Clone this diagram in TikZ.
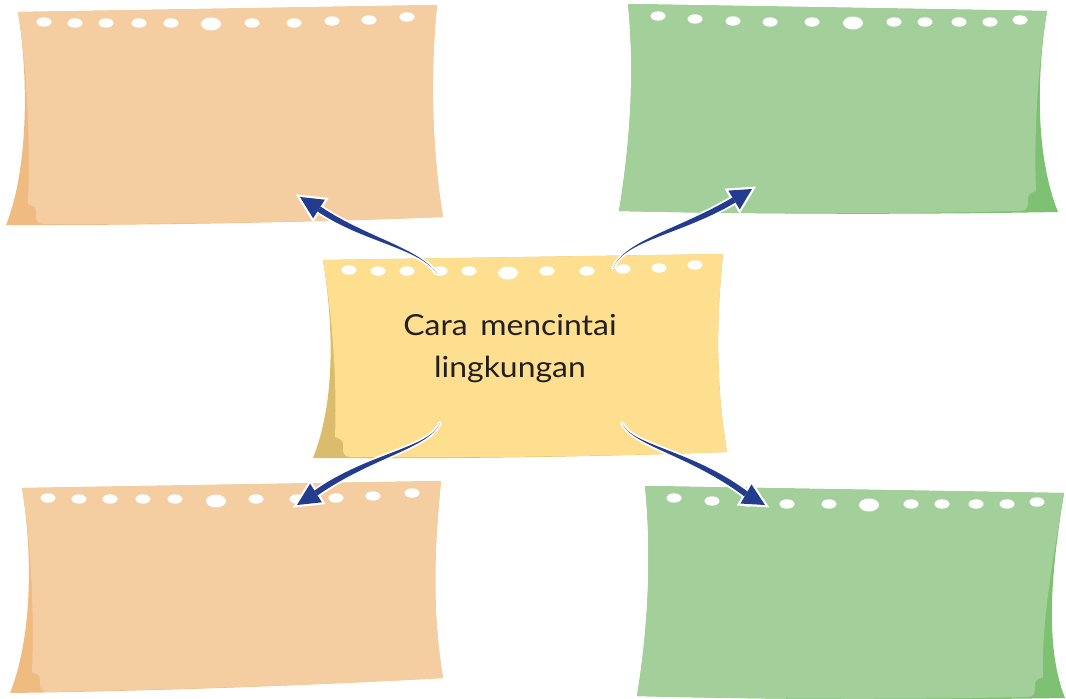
\documentclass[tikz,border=0pt]{standalone}
\usepackage{fontspec}
\setmainfont{Lato}
\newfontfamily\notefont[FakeStretch=1.1]{Lato}
\usetikzlibrary{calc}
\definecolor{orL}{HTML}{F4CDA1}
\definecolor{orD}{HTML}{F0BB80}
\definecolor{grL}{HTML}{A3CF9A}
\definecolor{grD}{HTML}{7FC172}
\definecolor{yeL}{HTML}{FDDF8F}
\definecolor{yeD}{HTML}{DABC6C}
\definecolor{navyarrow}{HTML}{233C8E}
\definecolor{ink}{HTML}{231F20}
% note paper: TL, TR, BR, BL corners, colour prefix
\newcommand\notepaper[9]{%
  \fill[#9D] (#1,#2) -- (#3,#4)
    .. controls ($(#3,#4)+(-7,70)$) and ($(#5,#6)+(-11,-67)$) .. (#5,#6)
    .. controls ($(#5,#6)!0.33!(#7,#8)+(0,3)$) and ($(#5,#6)!0.67!(#7,#8)+(0,3)$) .. (#7,#8)
    .. controls ($(#7,#8)+(22,-55)$) and ($(#1,#2)+(11,68)$) .. (#1,#2) -- cycle;
  \fill[#9L] (#1,#2) -- (#3,#4)
    .. controls ($(#3,#4)+(-7,70)$) and ($(#5,#6)+(-11,-67)$) .. (#5,#6)
    .. controls ($(#5,#6)!0.33!(#7,#8)+(0,3)$) and ($(#5,#6)!0.67!(#7,#8)+(0,2)$) .. ($(#7,#8)+(38,-1)$)
    .. controls ($(#7,#8)+(32,-1)$) and ($(#7,#8)+(30,-4)$) .. ($(#7,#8)+(30,-9)$)
    -- ($(#7,#8)+(30,-14)$)
    .. controls ($(#7,#8)+(30,-18)$) and ($(#7,#8)+(27,-19)$) .. ($(#7,#8)+(22,-21)$)
    .. controls ($(#7,#8)+(24,-75)$) and ($(#1,#2)+(10,60)$) .. (#1,#2) -- cycle;
}
\tikzset{
  hole/.style={fill=white},
  arrowrim/.style={draw=white,line width=3.6pt,line join=round},
  headrim/.style={draw=white,line width=4.4pt,line join=miter},
  arrowbody/.style={fill=navyarrow},
  notetext/.style={text=ink,font=\notefont\fontsize{29}{34}\selectfont,anchor=base,inner sep=0pt}
}
% tapered arrow between named coordinates: start, control a, control b, head base, tip
\newcommand\taperarrow[5]{%
  \path[arrowrim] (#1) .. controls (#2) and ($(#3)!2.9pt!-90:(#4)$) .. ($(#4)!2.9pt!90:(#3)$)
     -- ($(#4)!2.9pt!-90:(#3)$) .. controls ($(#3)!2.9pt!90:(#4)$) and (#2) .. (#1) -- cycle;
  \path[headrim] (#5) -- ($(#4)!11pt!90:(#5)$) -- ($(#4)!11pt!-90:(#5)$) -- cycle;
  \path[arrowbody] (#1) .. controls (#2) and ($(#3)!2.9pt!-90:(#4)$) .. ($(#4)!2.9pt!90:(#3)$)
     -- ($(#4)!2.9pt!-90:(#3)$) .. controls ($(#3)!2.9pt!90:(#4)$) and (#2) .. (#1) -- cycle;
  \path[arrowbody] (#5) -- ($(#4)!11pt!90:(#5)$) -- ($(#4)!11pt!-90:(#5)$) -- cycle;
}
\begin{document}
\begin{tikzpicture}[x=1pt,y=-1pt]
\useasboundingbox (0,0) rectangle (1066,699);
% notes
\notepaper{18}{12}{437}{5}{443}{217}{6}{225}{or}
\notepaper{22}{488}{441}{481}{443}{678}{10}{693}{or}
\notepaper{323}{260}{723}{254}{727}{452}{313}{458}{ye}
\begin{scope}[xscale=-1]
\notepaper{-1047}{11}{-628}{4}{-619}{211}{-1058}{212}{gr}
\notepaper{-1064}{493}{-645}{486}{-637}{696}{-1065}{698}{gr}
\end{scope}
% holes
\foreach \x/\y in {44/22,75/23,106/23,139/23,171/23,252/23,294/23,332/21,369/20,407/17,
  658/16,695/19,733/21,770/22,812/22,894/22,925/22,959/22,990/22,1020/20,
  349/270,378/271,407/271,440/271,469/271,547/271,587/271,623/269,659/268,695/265,
  48/498,79/499,110/499,143/499,175/499,256/499,297/499,336/498,373/496,412/493,
  674/498,712/501,748/502,787/504,829/504,911/504,942/504,976/504,1007/504,1037/502}
  \fill[hole] (\x,\y) ellipse[x radius=7.5pt,y radius=4.7pt];
\foreach \x/\y in {211/24,853/23,508/273,216/501,869/505}
  \fill[hole] (\x,\y) ellipse[x radius=10pt,y radius=6.5pt];
% text
\node[notetext] (ct1) at (510,335) {Cara\hspace{0.15em} mencintai};
\node[notetext] (ct2) at (510,377) {lingkungan};
% arrow coordinates
\coordinate (s1) at (437,274); \coordinate (a1) at (420,248); \coordinate (b1) at (365,240);
\coordinate (e1) at (319,209); \coordinate (t1) at (300,197);
\coordinate (s2) at (613,268); \coordinate (a2) at (625,240); \coordinate (b2) at (680,232);
\coordinate (e2) at (734,200); \coordinate (t2) at (752,189);
\coordinate (s3) at (440,423); \coordinate (a3) at (430,448); \coordinate (b3) at (370,455);
\coordinate (e3) at (316,493); \coordinate (t3) at (297,505);
\coordinate (s4) at (622,423); \coordinate (a4) at (632,446); \coordinate (b4) at (690,452);
\coordinate (e4) at (746,494); \coordinate (t4) at (765,505);
\taperarrow{s1}{a1}{b1}{e1}{t1}
\taperarrow{s2}{a2}{b2}{e2}{t2}
\taperarrow{s3}{a3}{b3}{e3}{t3}
\taperarrow{s4}{a4}{b4}{e4}{t4}
\end{tikzpicture}
\end{document}
